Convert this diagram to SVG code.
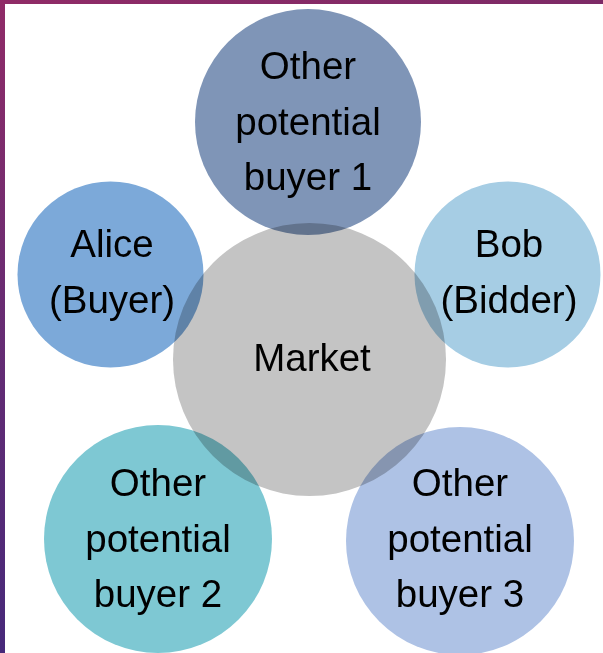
<svg xmlns="http://www.w3.org/2000/svg" width="603" height="653" viewBox="0 0 603 653">
  <defs>
    <linearGradient id="topBand" x1="0" y1="0" x2="1" y2="0">
      <stop offset="0" stop-color="#902b67"/>
      <stop offset="1" stop-color="#7c2a66"/>
    </linearGradient>
    <linearGradient id="leftBand" x1="0" y1="0" x2="0" y2="1">
      <stop offset="0" stop-color="#902b67"/>
      <stop offset="0.45" stop-color="#6a2c72"/>
      <stop offset="1" stop-color="#47297a"/>
    </linearGradient>
  </defs>
  <style>
    .lbl { font-family: "Liberation Sans", Arial, sans-serif; font-size: 38.5px; fill: #000000; text-anchor: middle; }
    .outer { mix-blend-mode: multiply; }
  </style>
  <rect x="0" y="0" width="603" height="653" fill="#ffffff"/>
  <rect x="0" y="0" width="603" height="4" fill="url(#topBand)"/>
  <rect x="0" y="0" width="5" height="653" fill="url(#leftBand)"/>

  <g id="connectors"></g>

  <g id="market">
    <circle cx="309.5" cy="359.5" r="136.5" fill="#c4c4c4"/>
    <text class="lbl" x="312" y="371">Market</text>
  </g>

  <g id="buyer1">
    <circle class="outer" cx="308" cy="122" r="113" fill="#7f95b7"/>
    <text class="lbl" x="308" y="79">Other</text>
    <text class="lbl" x="308" y="135">potential</text>
    <text class="lbl" x="308" y="190">buyer 1</text>
  </g>

  <g id="alice">
    <circle class="outer" cx="110.5" cy="274.5" r="93" fill="#7ca9d9"/>
    <text class="lbl" x="112" y="257">Alice</text>
    <text class="lbl" x="112" y="313">(Buyer)</text>
  </g>

  <g id="bob">
    <circle class="outer" cx="507.5" cy="274.5" r="93" fill="#a6cde4"/>
    <text class="lbl" x="509" y="257">Bob</text>
    <text class="lbl" x="509" y="313">(Bidder)</text>
  </g>

  <g id="buyer2">
    <circle class="outer" cx="158" cy="539" r="114" fill="#7ec8d3"/>
    <text class="lbl" x="158" y="496">Other</text>
    <text class="lbl" x="158" y="552">potential</text>
    <text class="lbl" x="158" y="607">buyer 2</text>
  </g>

  <g id="buyer3">
    <circle class="outer" cx="460" cy="541" r="114" fill="#aec2e5"/>
    <text class="lbl" x="460" y="496">Other</text>
    <text class="lbl" x="460" y="552">potential</text>
    <text class="lbl" x="460" y="607">buyer 3</text>
  </g>
</svg>
